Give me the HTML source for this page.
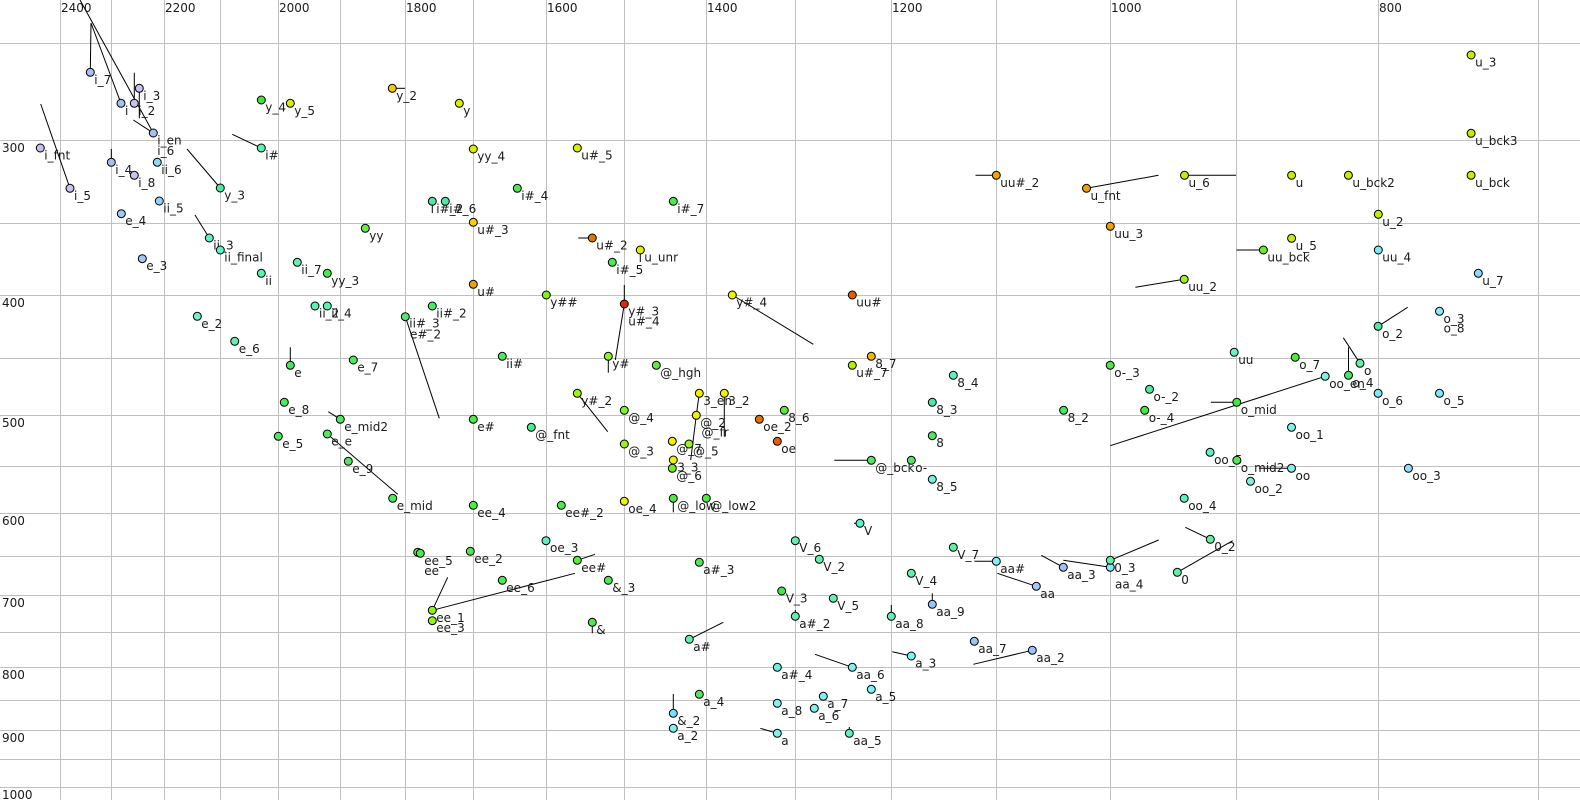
<!DOCTYPE html>
<html><head><meta charset="utf-8"><style>
html,body{margin:0;padding:0;background:#fff;}
svg{display:block;}
.g line{stroke:#c0c0c0;stroke-width:1;shape-rendering:crispEdges;}
.l line{stroke:#000;stroke-width:1;}
circle{stroke:#000;stroke-width:1;}
text{font-family:"DejaVu Sans","Liberation Sans",sans-serif;font-size:12px;fill:#1a1a1a;}
</style></head><body>
<svg width="1580" height="800" viewBox="0 0 1580 800" xmlns="http://www.w3.org/2000/svg">
<rect width="1580" height="800" fill="#fff"/>
<g class="g">
<line x1="60.5" y1="0" x2="60.5" y2="800"/><line x1="111.5" y1="0" x2="111.5" y2="800"/><line x1="164.5" y1="0" x2="164.5" y2="800"/><line x1="220.5" y1="0" x2="220.5" y2="800"/><line x1="278.5" y1="0" x2="278.5" y2="800"/><line x1="340.5" y1="0" x2="340.5" y2="800"/><line x1="405.5" y1="0" x2="405.5" y2="800"/><line x1="473.5" y1="0" x2="473.5" y2="800"/><line x1="546.5" y1="0" x2="546.5" y2="800"/><line x1="624.5" y1="0" x2="624.5" y2="800"/><line x1="706.5" y1="0" x2="706.5" y2="800"/><line x1="795.5" y1="0" x2="795.5" y2="800"/><line x1="891.5" y1="0" x2="891.5" y2="800"/><line x1="996.5" y1="0" x2="996.5" y2="800"/><line x1="1110.5" y1="0" x2="1110.5" y2="800"/><line x1="1236.5" y1="0" x2="1236.5" y2="800"/><line x1="1378.5" y1="0" x2="1378.5" y2="800"/><line x1="1538.5" y1="0" x2="1538.5" y2="800"/>
<line x1="0" y1="43.5" x2="1580" y2="43.5"/><line x1="0" y1="140.5" x2="1580" y2="140.5"/><line x1="0" y1="223.5" x2="1580" y2="223.5"/><line x1="0" y1="295.5" x2="1580" y2="295.5"/><line x1="0" y1="358.5" x2="1580" y2="358.5"/><line x1="0" y1="415.5" x2="1580" y2="415.5"/><line x1="0" y1="466.5" x2="1580" y2="466.5"/><line x1="0" y1="513.5" x2="1580" y2="513.5"/><line x1="0" y1="556.5" x2="1580" y2="556.5"/><line x1="0" y1="595.5" x2="1580" y2="595.5"/><line x1="0" y1="632.5" x2="1580" y2="632.5"/><line x1="0" y1="667.5" x2="1580" y2="667.5"/><line x1="0" y1="700.5" x2="1580" y2="700.5"/><line x1="0" y1="730.5" x2="1580" y2="730.5"/><line x1="0" y1="759.5" x2="1580" y2="759.5"/><line x1="0" y1="787.5" x2="1580" y2="787.5"/>
</g>
<g>
<text x="61" y="12">2400</text><text x="165" y="12">2200</text><text x="279" y="12">2000</text><text x="406" y="12">1800</text><text x="547" y="12">1600</text><text x="707" y="12">1400</text><text x="892" y="12">1200</text><text x="1111" y="12">1000</text><text x="1379" y="12">800</text>
<text x="2" y="152">300</text><text x="2" y="307">400</text><text x="2" y="427">500</text><text x="2" y="525">600</text><text x="2" y="607">700</text><text x="2" y="679">800</text><text x="2" y="742">900</text><text x="2" y="799">1000</text>
</g>
<g class="l">
<line x1="40.7" y1="104" x2="70" y2="188.3"/>
<line x1="91" y1="23" x2="90.3" y2="72.3"/>
<line x1="91" y1="23" x2="121" y2="103.3"/>
<line x1="80" y1="0" x2="153.3" y2="133"/>
<line x1="134.3" y1="72.7" x2="134.3" y2="103.3"/>
<line x1="139.3" y1="88.3" x2="139.3" y2="118.3"/>
<line x1="133.3" y1="120" x2="153.3" y2="133"/>
<line x1="111.3" y1="149" x2="111.3" y2="162.3"/>
<line x1="187" y1="149" x2="220.3" y2="188"/>
<line x1="195" y1="215" x2="209.3" y2="238"/>
<line x1="232.3" y1="134.3" x2="261.3" y2="148"/>
<line x1="392.3" y1="88.3" x2="405" y2="88.3"/>
<line x1="432.3" y1="201.3" x2="432.3" y2="213"/>
<line x1="578.3" y1="238" x2="592.3" y2="238"/>
<line x1="640.3" y1="250" x2="640.3" y2="262"/>
<line x1="975.5" y1="175.3" x2="996.3" y2="175.3"/>
<line x1="1086.5" y1="188.3" x2="1158.5" y2="175.3"/>
<line x1="1184.5" y1="175.3" x2="1236" y2="175.3"/>
<line x1="1236.5" y1="250" x2="1263.4" y2="250"/>
<line x1="1135.4" y1="287.3" x2="1184.2" y2="279.3"/>
<line x1="405.3" y1="316.7" x2="439.3" y2="418.3"/>
<line x1="290.3" y1="347.3" x2="290.3" y2="365.3"/>
<line x1="328.3" y1="411.7" x2="340.3" y2="419.3"/>
<line x1="327.3" y1="434" x2="397.7" y2="494.3"/>
<line x1="624.3" y1="285" x2="624.3" y2="304"/>
<line x1="624.3" y1="304" x2="615.3" y2="360"/>
<line x1="732.3" y1="295" x2="813.3" y2="344.3"/>
<line x1="608.3" y1="356.3" x2="608.3" y2="372.7"/>
<line x1="577.3" y1="393.3" x2="607.7" y2="431.7"/>
<line x1="699.3" y1="393.3" x2="696.3" y2="415.3"/>
<line x1="696.3" y1="415.3" x2="690.7" y2="460"/>
<line x1="724.3" y1="393.3" x2="724.3" y2="436.7"/>
<line x1="673.3" y1="498.3" x2="673.3" y2="512.3"/>
<line x1="834.3" y1="460.3" x2="871.3" y2="460.3"/>
<line x1="854" y1="523.3" x2="860" y2="523.3"/>
<line x1="577.3" y1="560.3" x2="595" y2="554.3"/>
<line x1="432.3" y1="610.3" x2="575" y2="573.3"/>
<line x1="432.3" y1="610.3" x2="447.7" y2="577.3"/>
<line x1="592.3" y1="622.3" x2="592.3" y2="633.3"/>
<line x1="689.3" y1="639.3" x2="723.3" y2="622.3"/>
<line x1="891.3" y1="605" x2="891.3" y2="616.3"/>
<line x1="815" y1="654.3" x2="852.3" y2="667.3"/>
<line x1="673.3" y1="694" x2="673.3" y2="713.3"/>
<line x1="760.3" y1="728.3" x2="777.3" y2="733.3"/>
<line x1="892.3" y1="651.7" x2="911.3" y2="656"/>
<line x1="974.3" y1="561.3" x2="996.3" y2="561.3"/>
<line x1="997.3" y1="573.3" x2="1036.3" y2="586.3"/>
<line x1="932.3" y1="593.3" x2="932.3" y2="604.3"/>
<line x1="1041.3" y1="555.3" x2="1063.3" y2="567.3"/>
<line x1="1110.3" y1="560.3" x2="1158.7" y2="540"/>
<line x1="1063.3" y1="560.3" x2="1110.3" y2="567.3"/>
<line x1="1177.3" y1="572.3" x2="1232.7" y2="540.7"/>
<line x1="1185.3" y1="527.3" x2="1210.3" y2="539.3"/>
<line x1="973.3" y1="664.3" x2="1032.3" y2="650.3"/>
<line x1="1378.1" y1="326.3" x2="1407.7" y2="307.3"/>
<line x1="1343.3" y1="337.7" x2="1360" y2="363.3"/>
<line x1="1110.2" y1="445.7" x2="1325.2" y2="376.3"/>
<line x1="1348.5" y1="347.3" x2="1348.5" y2="375.3"/>
<line x1="1210.9" y1="402.3" x2="1236.8" y2="402.3"/>
<line x1="1259" y1="468.3" x2="1291.5" y2="468.3"/>
<line x1="795.3" y1="610" x2="795.3" y2="616.3"/>
<line x1="849.3" y1="727" x2="849.3" y2="733.3"/>
</g>
<g>
<circle cx="40.3" cy="148" r="4" fill="#c8c0f0"/><text x="44.3" y="159.5">i_fnt</text>
<circle cx="70" cy="188.3" r="4" fill="#c8c0f0"/><text x="74" y="199.8">i_5</text>
<circle cx="90.3" cy="72.3" r="4" fill="#a8c0f0"/><text x="94.3" y="83.8">i_7</text>
<circle cx="121" cy="103.3" r="4" fill="#a8c0f0"/><text x="125" y="114.8">i</text>
<circle cx="134.3" cy="103.3" r="4" fill="#c8c0f0"/><text x="138.3" y="114.8">i_2</text>
<circle cx="139.3" cy="88.3" r="4" fill="#c8c0f0"/><text x="143.3" y="99.8">i_3</text>
<circle cx="153.3" cy="133" r="4" fill="#a8c0f0"/><text x="157.3" y="144.5">i_en</text>
<text x="157.3" y="155">i_6</text>
<circle cx="111.3" cy="162.3" r="4" fill="#a8c0f0"/><text x="115.3" y="173.8">i_4</text>
<circle cx="134.3" cy="175.3" r="4" fill="#c8c0f0"/><text x="138.3" y="186.8">i_8</text>
<circle cx="157.3" cy="162.3" r="4" fill="#90d8f8"/><text x="161.3" y="173.8">ii_6</text>
<circle cx="159.3" cy="201" r="4" fill="#98d0f8"/><text x="163.3" y="212.5">ii_5</text>
<circle cx="121.3" cy="213.7" r="4" fill="#a0c8f8"/><text x="125.3" y="225.2">e_4</text>
<circle cx="142.3" cy="258.7" r="4" fill="#a0c8f8"/><text x="146.3" y="270.2">e_3</text>
<circle cx="220.3" cy="188" r="4" fill="#50e8a0"/><text x="224.3" y="199.5">y_3</text>
<circle cx="209.3" cy="238" r="4" fill="#60f0c8"/><text x="213.3" y="249.5">ii_3</text>
<circle cx="220.3" cy="250" r="4" fill="#60f0c8"/><text x="224.3" y="261.5">ii_final</text>
<circle cx="261.3" cy="148" r="4" fill="#60f0b0"/><text x="265.3" y="159.5">i#</text>
<circle cx="261.3" cy="100" r="4" fill="#44e044"/><text x="265.3" y="111.5">y_4</text>
<circle cx="290.3" cy="103.3" r="4" fill="#d8f000"/><text x="294.3" y="114.8">y_5</text>
<circle cx="392.3" cy="88.3" r="4" fill="#f8c800"/><text x="396.3" y="99.8">y_2</text>
<circle cx="365.3" cy="228.3" r="4" fill="#60f040"/><text x="369.3" y="239.8">yy</text>
<circle cx="297.3" cy="262.3" r="4" fill="#60f0b0"/><text x="301.3" y="273.8">ii_7</text>
<circle cx="261.3" cy="273.3" r="4" fill="#60f0b0"/><text x="265.3" y="284.8">ii</text>
<circle cx="327.3" cy="273.3" r="4" fill="#50e850"/><text x="331.3" y="284.8">yy_3</text>
<circle cx="459.3" cy="103.3" r="4" fill="#d8f000"/><text x="463.3" y="114.8">y</text>
<circle cx="473.3" cy="149" r="4" fill="#d8f000"/><text x="477.3" y="160.5">yy_4</text>
<circle cx="577.3" cy="148" r="4" fill="#d8f000"/><text x="581.3" y="159.5">u#_5</text>
<circle cx="517.3" cy="188.3" r="4" fill="#50e850"/><text x="521.3" y="199.8">i#_4</text>
<circle cx="432.3" cy="201.3" r="4" fill="#50e8a0"/><text x="436.3" y="212.8">i#_2</text>
<circle cx="445.3" cy="201.3" r="4" fill="#50e8a0"/><text x="449.3" y="212.8">i#_6</text>
<circle cx="473.3" cy="222.3" r="4" fill="#f8d000"/><text x="477.3" y="233.8">u#_3</text>
<circle cx="592.3" cy="238" r="4" fill="#e07800"/><text x="596.3" y="249.5">u#_2</text>
<circle cx="640.3" cy="250" r="4" fill="#e0f000"/><text x="644.3" y="261.5">u_unr</text>
<circle cx="612.3" cy="262.3" r="4" fill="#50e850"/><text x="616.3" y="273.8">i#_5</text>
<circle cx="673.3" cy="201.3" r="4" fill="#50e850"/><text x="677.3" y="212.8">i#_7</text>
<circle cx="996.3" cy="175.3" r="4" fill="#f0a000"/><text x="1000.3" y="186.8">uu#_2</text>
<circle cx="1086.5" cy="188.3" r="4" fill="#f0a000"/><text x="1090.5" y="199.8">u_fnt</text>
<circle cx="1184.5" cy="175.3" r="4" fill="#c0f000"/><text x="1188.5" y="186.8">u_6</text>
<circle cx="1291.6" cy="175.3" r="4" fill="#c0f000"/><text x="1295.6" y="186.8">u</text>
<circle cx="1348.4" cy="175.3" r="4" fill="#c0f000"/><text x="1352.4" y="186.8">u_bck2</text>
<circle cx="1471.1" cy="175.3" r="4" fill="#c0f000"/><text x="1475.1" y="186.8">u_bck</text>
<circle cx="1471.1" cy="133.3" r="4" fill="#c0f000"/><text x="1475.1" y="144.8">u_bck3</text>
<circle cx="1471.1" cy="55" r="4" fill="#c0f000"/><text x="1475.1" y="66.5">u_3</text>
<circle cx="1378.3" cy="214.3" r="4" fill="#c0f000"/><text x="1382.3" y="225.8">u_2</text>
<circle cx="1110.3" cy="226.3" r="4" fill="#f0a000"/><text x="1114.3" y="237.8">uu_3</text>
<circle cx="1291.6" cy="238.3" r="4" fill="#c0f000"/><text x="1295.6" y="249.8">u_5</text>
<circle cx="1263.4" cy="250" r="4" fill="#70e830"/><text x="1267.4" y="261.5">uu_bck</text>
<circle cx="1378.3" cy="250" r="4" fill="#80e8f0"/><text x="1382.3" y="261.5">uu_4</text>
<circle cx="1478.3" cy="273.3" r="4" fill="#90d8f8"/><text x="1482.3" y="284.8">u_7</text>
<circle cx="1184.2" cy="279.3" r="4" fill="#a0f020"/><text x="1188.2" y="290.8">uu_2</text>
<circle cx="473.3" cy="284.3" r="4" fill="#f0a000"/><text x="477.3" y="295.8">u#</text>
<circle cx="315" cy="306" r="4" fill="#60f0b0"/><text x="319" y="317.5">ii_2</text>
<circle cx="327.3" cy="306" r="4" fill="#60f0b0"/><text x="331.3" y="317.5">ii_4</text>
<circle cx="405.3" cy="316.7" r="4" fill="#50e870"/><text x="409.3" y="327.5">ii#_3</text>
<text x="410" y="338.3">e#_2</text>
<circle cx="432.3" cy="306" r="4" fill="#50e870"/><text x="436.3" y="317.5">ii#_2</text>
<circle cx="197.3" cy="316.3" r="4" fill="#70f0d0"/><text x="201.3" y="327.8">e_2</text>
<circle cx="234.7" cy="341.3" r="4" fill="#60f0b0"/><text x="238.7" y="352.8">e_6</text>
<circle cx="290.3" cy="365.3" r="4" fill="#44e860"/><text x="294.3" y="376.8">e</text>
<circle cx="353.3" cy="360" r="4" fill="#50e860"/><text x="357.3" y="371.5">e_7</text>
<circle cx="502.3" cy="356.3" r="4" fill="#50e860"/><text x="506.3" y="367.8">ii#</text>
<circle cx="284.3" cy="402.3" r="4" fill="#50e860"/><text x="288.3" y="413.8">e_8</text>
<circle cx="340.3" cy="419.3" r="4" fill="#50e860"/><text x="344.3" y="430.8">e_mid2</text>
<circle cx="278.3" cy="436.3" r="4" fill="#50e860"/><text x="282.3" y="447.8">e_5</text>
<circle cx="327.3" cy="434" r="4" fill="#50e860"/><text x="331.3" y="445.5">e_e</text>
<circle cx="348.3" cy="461.3" r="4" fill="#50e860"/><text x="352.3" y="472.8">e_9</text>
<circle cx="392.7" cy="498.3" r="4" fill="#50e860"/><text x="396.7" y="509.8">e_mid</text>
<circle cx="473.3" cy="419.3" r="4" fill="#50e850"/><text x="477.3" y="430.8">e#</text>
<circle cx="473.3" cy="505.3" r="4" fill="#50e850"/><text x="477.3" y="516.8">ee_4</text>
<circle cx="546.3" cy="295" r="4" fill="#80f020"/><text x="550.3" y="306.5">y##</text>
<circle cx="624.3" cy="304" r="4" fill="#d03010"/><text x="628.3" y="315.5">y#_3</text>
<text x="628.3" y="325.5">u#_4</text>
<circle cx="732.3" cy="295" r="4" fill="#f0f000"/><text x="736.3" y="306.5">y#_4</text>
<circle cx="852.3" cy="295" r="4" fill="#e06000"/><text x="856.3" y="306.5">uu#</text>
<circle cx="608.3" cy="356.3" r="4" fill="#90f030"/><text x="612.3" y="367.8">y#</text>
<circle cx="656.3" cy="365.3" r="4" fill="#60e840"/><text x="660.3" y="376.8">@_hgh</text>
<circle cx="871.3" cy="356.3" r="4" fill="#f0b800"/><text x="875.3" y="367.8">8_7</text>
<circle cx="852.3" cy="365.3" r="4" fill="#b0f000"/><text x="856.3" y="376.8">u#_7</text>
<circle cx="953.3" cy="375.3" r="4" fill="#60f0c0"/><text x="957.3" y="386.8">8_4</text>
<circle cx="577.3" cy="393.3" r="4" fill="#a0f020"/><text x="581.3" y="404.8">y#_2</text>
<circle cx="699.3" cy="393.3" r="4" fill="#f0f000"/><text x="703.3" y="404.8">3_en</text>
<circle cx="724.3" cy="393.3" r="4" fill="#f0f000"/><text x="728.3" y="404.8">3_2</text>
<circle cx="696.3" cy="415.3" r="4" fill="#f0f000"/><text x="700.3" y="426.8">@_2</text>
<text x="701.5" y="436.5">@_fr</text>
<circle cx="624.3" cy="410.3" r="4" fill="#80f030"/><text x="628.3" y="421.8">@_4</text>
<circle cx="784.3" cy="410.3" r="4" fill="#60e840"/><text x="788.3" y="421.8">8_6</text>
<circle cx="759.3" cy="419.3" r="4" fill="#e07000"/><text x="763.3" y="430.8">oe_2</text>
<circle cx="531.3" cy="427.3" r="4" fill="#50e890"/><text x="535.3" y="438.8">@_fnt</text>
<circle cx="777.3" cy="441.3" r="4" fill="#e06010"/><text x="781.3" y="452.8">oe</text>
<circle cx="624.3" cy="444" r="4" fill="#a0f020"/><text x="628.3" y="455.5">@_3</text>
<circle cx="672.3" cy="441.3" r="4" fill="#f0f000"/><text x="676.3" y="452.8">@_7</text>
<circle cx="689" cy="444" r="4" fill="#a0f020"/><text x="693" y="455.5">@_5</text>
<circle cx="673.3" cy="460" r="4" fill="#f0f000"/><text x="677.3" y="471.5">3_3</text>
<circle cx="672.3" cy="468.3" r="4" fill="#70f020"/><text x="676.3" y="479.8">@_6</text>
<circle cx="673.3" cy="498.3" r="4" fill="#50e840"/><text x="677.3" y="509.8">@_low</text>
<circle cx="706.3" cy="498.3" r="4" fill="#50e840"/><text x="710.3" y="509.8">@_low2</text>
<circle cx="624.3" cy="501.3" r="4" fill="#f0f000"/><text x="628.3" y="512.8">oe_4</text>
<circle cx="561.3" cy="505.3" r="4" fill="#50e850"/><text x="565.3" y="516.8">ee#_2</text>
<circle cx="871.3" cy="460.3" r="4" fill="#50e860"/><text x="875.3" y="471.8">@_bck</text>
<circle cx="911.3" cy="460.3" r="4" fill="#50e860"/><text x="915.3" y="471.8">o-</text>
<circle cx="932.3" cy="402.3" r="4" fill="#50e8a0"/><text x="936.3" y="413.8">8_3</text>
<circle cx="932.3" cy="435.7" r="4" fill="#50e860"/><text x="936.3" y="447.2">8</text>
<circle cx="932.3" cy="479.3" r="4" fill="#70f0e8"/><text x="936.3" y="490.8">8_5</text>
<circle cx="860" cy="523.3" r="4" fill="#60f0c8"/><text x="864" y="534.8">V</text>
<circle cx="546" cy="540.7" r="4" fill="#60f0c0"/><text x="550" y="552.2">oe_3</text>
<circle cx="795.3" cy="540.7" r="4" fill="#60f0b0"/><text x="799.3" y="552.2">V_6</text>
<circle cx="417.7" cy="552.3" r="4" fill="#50e850"/>
<circle cx="420.3" cy="553.3" r="4" fill="#50e850"/><text x="424.3" y="564.8">ee_5</text>
<text x="424.3" y="575">ee</text>
<circle cx="470.3" cy="551.3" r="4" fill="#50e850"/><text x="474.3" y="562.8">ee_2</text>
<circle cx="577.3" cy="560.3" r="4" fill="#60e840"/><text x="581.3" y="571.8">ee#</text>
<circle cx="502.3" cy="580.3" r="4" fill="#50e850"/><text x="506.3" y="591.8">ee_6</text>
<circle cx="608.3" cy="580.3" r="4" fill="#50e850"/><text x="612.3" y="591.8">&amp;_3</text>
<circle cx="699.3" cy="562.3" r="4" fill="#50e850"/><text x="703.3" y="573.8">a#_3</text>
<circle cx="432.3" cy="610.3" r="4" fill="#90f020"/><text x="436.3" y="621.8">ee_1</text>
<circle cx="432.3" cy="620.7" r="4" fill="#90f020"/><text x="436.3" y="632.2">ee_3</text>
<circle cx="592.3" cy="622.3" r="4" fill="#50e850"/><text x="596.3" y="633.8">&amp;</text>
<circle cx="689.3" cy="639.3" r="4" fill="#60f0b0"/><text x="693.3" y="650.8">a#</text>
<circle cx="819.3" cy="559.3" r="4" fill="#60f0b0"/><text x="823.3" y="570.8">V_2</text>
<circle cx="781.7" cy="591" r="4" fill="#44e844"/><text x="785.7" y="602.5">V_3</text>
<circle cx="833.3" cy="598.3" r="4" fill="#60f0b0"/><text x="837.3" y="609.8">V_5</text>
<circle cx="795.3" cy="616.3" r="4" fill="#60f0b0"/><text x="799.3" y="627.8">a#_2</text>
<circle cx="891.3" cy="616.3" r="4" fill="#60f0b8"/><text x="895.3" y="627.8">aa_8</text>
<circle cx="777.3" cy="667.3" r="4" fill="#70f0e0"/><text x="781.3" y="678.8">a#_4</text>
<circle cx="852.3" cy="667.3" r="4" fill="#80f0f0"/><text x="856.3" y="678.8">aa_6</text>
<circle cx="871.3" cy="689.3" r="4" fill="#80f0f0"/><text x="875.3" y="700.8">a_5</text>
<circle cx="699.3" cy="694.3" r="4" fill="#50e860"/><text x="703.3" y="705.8">a_4</text>
<circle cx="823.3" cy="696.3" r="4" fill="#80f0f0"/><text x="827.3" y="707.8">a_7</text>
<circle cx="777.3" cy="703.3" r="4" fill="#80f0f0"/><text x="781.3" y="714.8">a_8</text>
<circle cx="814.3" cy="708.3" r="4" fill="#80f0f0"/><text x="818.3" y="719.8">a_6</text>
<circle cx="673.3" cy="713.3" r="4" fill="#78e0f8"/><text x="677.3" y="724.8">&amp;_2</text>
<circle cx="673.3" cy="728.3" r="4" fill="#80f0f0"/><text x="677.3" y="739.8">a_2</text>
<circle cx="777.3" cy="733.3" r="4" fill="#80f0f0"/><text x="781.3" y="744.8">a</text>
<circle cx="849.3" cy="733.3" r="4" fill="#60f0c0"/><text x="853.3" y="744.8">aa_5</text>
<circle cx="911.3" cy="656" r="4" fill="#80f0f0"/><text x="915.3" y="667.5">a_3</text>
<circle cx="953.3" cy="547.3" r="4" fill="#60f0a0"/><text x="957.3" y="558.8">V_7</text>
<circle cx="996.3" cy="561.3" r="4" fill="#80f0f0"/><text x="1000.3" y="572.8">aa#</text>
<circle cx="1036.3" cy="586.3" r="4" fill="#a0c8f8"/><text x="1040.3" y="597.8">aa</text>
<circle cx="911.3" cy="573.3" r="4" fill="#60f0b0"/><text x="915.3" y="584.8">V_4</text>
<circle cx="932.3" cy="604.3" r="4" fill="#90c8f8"/><text x="936.3" y="615.8">aa_9</text>
<circle cx="1063.3" cy="567.3" r="4" fill="#a0c0f8"/><text x="1067.3" y="578.8">aa_3</text>
<circle cx="1110.3" cy="567.3" r="4" fill="#80e8f8"/>
<circle cx="1110.3" cy="560.3" r="4" fill="#60f0a0"/><text x="1114.3" y="571.8">0_3</text>
<text x="1115" y="588.5">aa_4</text>
<circle cx="1177.3" cy="572.3" r="4" fill="#60f0a0"/><text x="1181.3" y="583.8">0</text>
<circle cx="1210.3" cy="539.3" r="4" fill="#60f0a0"/><text x="1214.3" y="550.8">0_2</text>
<circle cx="974.3" cy="641.3" r="4" fill="#a0c0f8"/><text x="978.3" y="652.8">aa_7</text>
<circle cx="1032.3" cy="650.3" r="4" fill="#a0c0f8"/><text x="1036.3" y="661.8">aa_2</text>
<circle cx="1439.5" cy="311.3" r="4" fill="#90e8f8"/><text x="1443.5" y="322.8">o_3</text>
<text x="1443.6" y="332.7">o_8</text>
<circle cx="1378.1" cy="326.3" r="4" fill="#50e8a8"/><text x="1382.1" y="337.8">o_2</text>
<circle cx="1234.2" cy="352.3" r="4" fill="#70f0c8"/><text x="1238.2" y="363.8">uu</text>
<circle cx="1295.2" cy="357.3" r="4" fill="#50e840"/><text x="1299.2" y="368.8">o_7</text>
<circle cx="1360" cy="363.3" r="4" fill="#60f0a8"/><text x="1364" y="374.8">o</text>
<circle cx="1325.2" cy="376.3" r="4" fill="#80f0e0"/><text x="1329.2" y="387.8">oo_en</text>
<circle cx="1348.5" cy="375.3" r="4" fill="#44e860"/><text x="1352.5" y="386.8">o_4</text>
<circle cx="1110.2" cy="365.3" r="4" fill="#50e840"/><text x="1114.2" y="376.8">o-_3</text>
<circle cx="1149.5" cy="389.3" r="4" fill="#50e8a0"/><text x="1153.5" y="400.8">o-_2</text>
<circle cx="1144.7" cy="410.3" r="4" fill="#44e840"/><text x="1148.7" y="421.8">o-_4</text>
<circle cx="1063.6" cy="410.3" r="4" fill="#44e860"/><text x="1067.6" y="421.8">8_2</text>
<circle cx="1236.8" cy="402.3" r="4" fill="#44e840"/><text x="1240.8" y="413.8">o_mid</text>
<circle cx="1378.1" cy="393.3" r="4" fill="#80e8f8"/><text x="1382.1" y="404.8">o_6</text>
<circle cx="1439.5" cy="393.3" r="4" fill="#80e8f8"/><text x="1443.5" y="404.8">o_5</text>
<circle cx="1291.5" cy="427.3" r="4" fill="#80f0e8"/><text x="1295.5" y="438.8">oo_1</text>
<circle cx="1210.1" cy="452.3" r="4" fill="#60f0c0"/><text x="1214.1" y="463.8">oo_5</text>
<circle cx="1236.8" cy="460.3" r="4" fill="#50e850"/><text x="1240.8" y="471.8">o_mid2</text>
<circle cx="1291.5" cy="468.3" r="4" fill="#80f0e8"/><text x="1295.5" y="479.8">oo</text>
<circle cx="1408.4" cy="468.3" r="4" fill="#90e0f8"/><text x="1412.4" y="479.8">oo_3</text>
<circle cx="1250.5" cy="481.3" r="4" fill="#80f0e0"/><text x="1254.5" y="492.8">oo_2</text>
<circle cx="1184.2" cy="498.3" r="4" fill="#60f0c0"/><text x="1188.2" y="509.8">oo_4</text>
</g>
</svg>
</body></html>
